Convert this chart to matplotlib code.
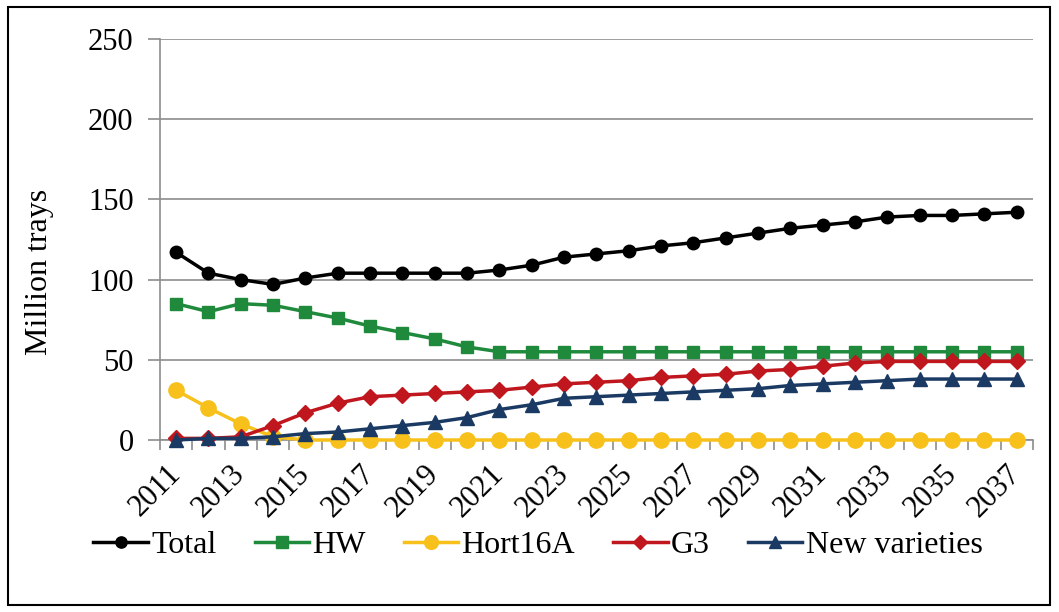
import matplotlib.pyplot as plt
from matplotlib.patches import Rectangle

years = list(range(2011, 2038))
total = [117, 104, 100, 97, 101, 104, 104, 104, 104, 104, 106, 109, 114, 116, 118,
         121, 123, 126, 129, 132, 134, 136, 139, 140, 140, 141, 142]
hw = [85, 80, 85, 84, 80, 76, 71, 67, 63, 58, 55, 55, 55, 55, 55,
      55, 55, 55, 55, 55, 55, 55, 55, 55, 55, 55, 55]
hort16a = [31, 20, 10, 2, 0, 0, 0, 0, 0, 0, 0, 0, 0, 0, 0,
           0, 0, 0, 0, 0, 0, 0, 0, 0, 0, 0, 0]
g3 = [1, 1, 2, 9, 17, 23, 27, 28, 29, 30, 31, 33, 35, 36, 37,
      39, 40, 41, 43, 44, 46, 48, 49, 49, 49, 49, 49]
new_varieties = [0, 1, 1, 2, 4, 5, 7, 9, 11, 14, 19, 22, 26, 27, 28,
                 29, 30, 31, 32, 34, 35, 36, 37, 38, 38, 38, 38]

plt.rcParams['font.family'] = ['Liberation Serif', 'DejaVu Serif']

fig = plt.figure(figsize=(10.59, 6.12), dpi=100)
ax = fig.add_axes([160 / 1059, 1 - 440 / 612, (1033 - 160) / 1059, (440 - 39) / 612])

series = [
    ('Total', total, 'black', 'o', 9),
    ('HW', hw, '#1f8a3c', 's', 9),
    ('Hort16A', hort16a, '#f7c01a', 'o', 11),
    ('G3', g3, '#c0161e', 'D', 8),
    ('New varieties', new_varieties, '#1b3a63', '^', 10),
]
for name, vals, col, mk, ms in series:
    ax.plot(years, vals, color=col, marker=mk, markersize=ms, linewidth=2.5,
            label=name, clip_on=False, zorder=3)

ax.set_xlim(2010.5, 2037.5)
ax.set_ylim(0, 250)
ax.set_yticks(range(0, 251, 50))
ax.grid(axis='y', color='#8c8c8c', linewidth=1.2)
ax.set_axisbelow(True)

for side in ['top', 'right']:
    ax.spines[side].set_visible(False)
for side in ['left', 'bottom']:
    ax.spines[side].set_color('#8c8c8c')
    ax.spines[side].set_linewidth(1.2)

ax.set_xticks(years[::2])
ax.set_xticks([y + 0.5 for y in range(2010, 2038)], minor=True)
ax.tick_params(axis='x', which='major', length=0, pad=21, labelsize=22)
ax.tick_params(axis='x', which='minor', length=7, color='#8c8c8c', width=1.2)
ax.tick_params(axis='y', length=9, color='#8c8c8c', width=1.2, labelsize=22, pad=10)
for lab in ax.get_xticklabels():
    lab.set_rotation(45)
    lab.set_ha('right')
    lab.set_va('center')
    lab.set_rotation_mode('anchor')

# y label sits a bit below the middle of the axis in the original
fig.text(40 / 1059, 1 - 272 / 612, 'Million trays', rotation=90, fontsize=23,
         ha='center', va='center')

ax.legend(loc='center', bbox_to_anchor=(538 / 1059, 1 - 545 / 612),
          bbox_transform=fig.transFigure, ncol=5, frameon=False, fontsize=23,
          handlelength=1.7, handletextpad=0.1, columnspacing=1.2, markerscale=0.9)

fig.patches.append(Rectangle((8 / 1059, 7 / 612), 1042 / 1059, 598 / 612,
                             transform=fig.transFigure, fill=False,
                             edgecolor='black', linewidth=1.5))

fig.savefig('out.png', dpi=100)
